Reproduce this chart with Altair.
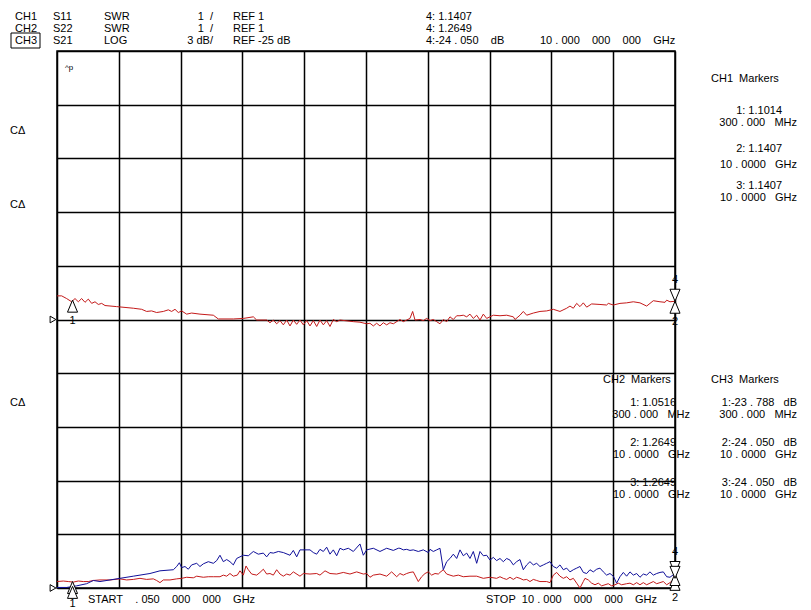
import altair as alt
import pandas as pd

# ---------------- trace data (frequency in GHz, value in screen divisions) ----------------
ch1_f = [0.05, 0.125, 0.205, 0.286, 0.340, 0.393, 0.447, 0.501, 0.554, 0.608,
         0.662, 0.715, 0.769, 0.823, 1.010, 1.279, 1.413, 1.493, 1.574, 1.654,
         1.762, 1.842, 1.896, 1.950, 2.003, 2.057, 2.138, 2.218, 2.352, 2.567,
         2.647, 2.889, 3.050, 3.211, 3.265, 3.426, 3.479, 3.533, 3.587, 3.640,
         3.694, 3.748, 3.801, 3.855, 3.909, 3.962, 4.016, 4.070, 4.123, 4.177,
         4.231, 4.284, 4.338, 4.392, 4.445, 4.499, 4.553, 4.606, 4.821, 4.928,
         5.036, 5.089, 5.143, 5.197, 5.250, 5.304, 5.358, 5.411, 5.465, 5.572,
         5.626, 5.680, 5.733, 5.776, 5.814, 5.894, 5.948, 6.002, 6.055, 6.109,
         6.163, 6.216, 6.270, 6.324, 6.377, 6.431, 6.485, 6.538, 6.592, 6.646,
         6.699, 6.753, 6.807, 6.860, 6.914, 6.968, 7.021, 7.075, 7.182, 7.290,
         7.397, 7.424, 7.504, 7.558, 7.612, 7.719, 7.826, 7.934, 8.041, 8.148,
         8.256, 8.309, 8.363, 8.417, 8.470, 8.524, 8.578, 8.658, 8.792, 8.899,
         8.926, 9.007, 9.114, 9.221, 9.329, 9.436, 9.544, 9.651, 9.758, 9.839,
         9.866, 9.919, 10.0]
ch1_v = [5.44, 5.44, 5.39, 5.33, 5.39, 5.33, 5.39, 5.32, 5.38, 5.30,
         5.33, 5.28, 5.30, 5.26, 5.24, 5.21, 5.19, 5.15, 5.16, 5.13,
         5.15, 5.18, 5.15, 5.19, 5.13, 5.16, 5.10, 5.12, 5.10, 5.08,
         5.01, 5.01, 5.02, 5.05, 4.99, 4.99, 4.94, 4.99, 4.92, 4.98,
         4.90, 4.99, 4.88, 4.99, 4.91, 4.99, 4.90, 4.98, 4.88, 4.98,
         4.87, 4.99, 4.90, 4.98, 4.87, 5.00, 4.96, 4.99, 4.96, 4.95,
         4.92, 4.93, 4.88, 4.93, 4.88, 4.94, 4.90, 4.94, 4.92, 5.00,
         4.96, 4.99, 5.02, 5.15, 4.99, 5.00, 4.98, 5.02, 4.98, 5.00,
         4.96, 4.92, 5.00, 4.96, 5.05, 5.00, 5.07, 5.07, 5.08, 5.05,
         5.10, 5.02, 5.08, 4.99, 5.10, 5.02, 5.05, 5.08, 5.07, 5.08,
         5.05, 5.00, 5.08, 5.15, 5.08, 5.12, 5.15, 5.16, 5.19, 5.15,
         5.21, 5.25, 5.21, 5.30, 5.24, 5.31, 5.23, 5.29, 5.28, 5.27,
         5.30, 5.27, 5.30, 5.31, 5.33, 5.31, 5.25, 5.35, 5.33, 5.32,
         5.36, 5.33, 5.34]

ch3_f = [0.05, 0.205, 0.366, 0.527, 0.635, 0.742, 0.903, 1.064, 1.279, 1.547,
         1.708, 1.923, 1.977, 2.020, 2.057, 2.111, 2.164, 2.218, 2.299, 2.352,
         2.406, 2.486, 2.567, 2.621, 2.674, 2.728, 2.782, 2.835, 2.889, 2.943,
         2.996, 3.050, 3.130, 3.211, 3.291, 3.372, 3.426, 3.479, 3.533, 3.614,
         3.694, 3.801, 3.855, 3.909, 3.962, 4.123, 4.177, 4.231, 4.284, 4.338,
         4.392, 4.445, 4.499, 4.553, 4.606, 4.660, 4.740, 4.821, 4.928, 4.982,
         5.036, 5.143, 5.250, 5.358, 5.465, 5.545,
         5.572, 5.626, 5.680, 5.733, 5.787, 5.867, 5.948, 6.028, 6.055, 6.109,
         6.163, 6.216, 6.270, 6.324, 6.377, 6.431, 6.485, 6.538, 6.592, 6.646,
         6.699, 6.753, 6.807, 6.860, 6.914, 6.968, 7.021, 7.075, 7.128, 7.182,
         7.236, 7.290, 7.343, 7.397, 7.450, 7.504, 7.558, 7.612, 7.665, 7.719,
         7.773, 7.826, 7.880, 7.934, 7.987, 8.041, 8.095, 8.148, 8.202, 8.256,
         8.309, 8.363, 8.417, 8.470, 8.524, 8.578, 8.631, 8.685, 8.739, 8.792,
         8.846, 8.899, 8.953, 9.007, 9.060, 9.114, 9.168, 9.221, 9.275, 9.329,
         9.383, 9.436, 9.490, 9.544, 9.597, 9.651, 9.705, 9.758, 9.812, 9.866,
         9.919, 10.0]
ch3_v = [0.01, 0.01, 0.04, 0.08, 0.14, 0.12, 0.15, 0.18, 0.22, 0.27,
         0.32, 0.34, 0.40, 0.47, 0.38, 0.40, 0.35, 0.43, 0.46, 0.40,
         0.45, 0.49, 0.46, 0.51, 0.61, 0.49, 0.53, 0.49, 0.43, 0.55,
         0.58, 0.61, 0.60, 0.68, 0.63, 0.65, 0.58, 0.66, 0.65, 0.68,
         0.66, 0.61, 0.70, 0.58, 0.71, 0.71, 0.66, 0.63, 0.72, 0.68,
         0.76, 0.63, 0.71, 0.60, 0.74, 0.71, 0.74, 0.68, 0.82, 0.61,
         0.71, 0.74, 0.68, 0.74, 0.70, 0.74,
         0.74, 0.71, 0.72, 0.70, 0.71, 0.68, 0.71, 0.66, 0.72, 0.68,
         0.71, 0.74, 0.34, 0.49, 0.55, 0.63, 0.55, 0.71, 0.60, 0.65,
         0.55, 0.68, 0.46, 0.68, 0.60, 0.61, 0.52, 0.57, 0.51, 0.55,
         0.49, 0.55, 0.52, 0.43, 0.49, 0.53, 0.34, 0.43, 0.49, 0.43,
         0.46, 0.40, 0.43, 0.46, 0.49, 0.40, 0.37, 0.43, 0.34, 0.37,
         0.30, 0.34, 0.37, 0.40, 0.29, 0.27, 0.34, 0.30, 0.35, 0.37,
         0.30, 0.24, 0.27, 0.22, 0.09, 0.21, 0.29, 0.22, 0.30, 0.24,
         0.27, 0.20, 0.26, 0.24, 0.30, 0.24, 0.27, 0.29, 0.30, 0.21,
         0.20, 0.27]

ch2_f = [0.05, 0.152, 0.232, 0.313, 0.393, 0.474, 0.554, 0.635, 0.742, 0.903,
         1.064, 1.172, 1.279, 1.386, 1.493, 1.601, 1.654, 1.708, 1.762, 1.869,
         1.977, 2.057, 2.138, 2.245, 2.299, 2.352, 2.406, 2.486, 2.567, 2.674,
         2.728, 2.782, 2.835, 2.889, 2.953, 2.996, 3.050, 3.093, 3.130, 3.184,
         3.265, 3.318, 3.372, 3.426, 3.479, 3.533, 3.587, 3.640, 3.694, 3.748,
         3.801, 3.855, 3.962, 4.016, 4.123, 4.231, 4.284, 4.365, 4.445, 4.553,
         4.660, 4.767, 4.875, 4.982, 5.036, 5.089, 5.143, 5.250, 5.358, 5.438,
         5.519,
         5.572, 5.626, 5.680, 5.733, 5.787, 5.867, 5.921, 5.975, 6.028, 6.082,
         6.136, 6.189, 6.216, 6.270, 6.324, 6.377, 6.431, 6.511, 6.592, 6.699,
         6.807, 6.914, 7.021, 7.128, 7.182, 7.236, 7.290, 7.343, 7.397, 7.450,
         7.504, 7.558, 7.612, 7.665, 7.719, 7.773, 7.826, 7.934, 7.987, 8.041,
         8.095, 8.148, 8.202, 8.256, 8.309, 8.363, 8.417, 8.470, 8.524, 8.551,
         8.604, 8.658, 8.712, 8.765, 8.819, 8.873, 8.926, 8.980, 9.034, 9.087,
         9.141, 9.221, 9.275, 9.329, 9.383, 9.436, 9.490, 9.544, 9.597, 9.651,
         9.705, 9.758, 9.812, 9.866, 9.919, 10.0]
ch2_v = [0.12, 0.13, 0.12, 0.11, 0.13, 0.12, 0.12, 0.14, 0.15, 0.15,
         0.17, 0.15, 0.16, 0.18, 0.16, 0.17, 0.14, 0.10, 0.15, 0.15,
         0.17, 0.18, 0.20, 0.19, 0.22, 0.21, 0.20, 0.21, 0.21, 0.21,
         0.24, 0.22, 0.27, 0.22, 0.24, 0.32, 0.24, 0.41, 0.34, 0.26,
         0.24, 0.29, 0.35, 0.26, 0.27, 0.24, 0.34, 0.26, 0.22, 0.26,
         0.24, 0.30, 0.22, 0.27, 0.26, 0.27, 0.24, 0.32, 0.27, 0.26,
         0.29, 0.26, 0.30, 0.26, 0.27, 0.20, 0.24, 0.26, 0.22, 0.30,
         0.21,
         0.27, 0.24, 0.27, 0.29, 0.30, 0.12, 0.21, 0.27, 0.30, 0.24,
         0.27, 0.26, 0.29, 0.34, 0.26, 0.24, 0.22, 0.24, 0.21, 0.22,
         0.22, 0.18, 0.20, 0.18, 0.21, 0.18, 0.16, 0.20, 0.16, 0.20,
         0.18, 0.15, 0.16, 0.12, 0.16, 0.14, 0.12, 0.12, 0.10, 0.24,
         0.29, 0.22, 0.18, 0.21, 0.15, 0.18, 0.09, 0.00, 0.12, 0.18,
         0.15, 0.09, 0.06, 0.09, 0.04, 0.06, 0.08, 0.04, 0.06, 0.09,
         0.06, 0.08, 0.09, 0.06, 0.10, 0.06, 0.10, 0.06, 0.09, 0.12,
         0.08, 0.10, 0.12, 0.06, 0.10, 0.18]

series_names = ["CH1 S11", "CH2 S22", "CH3 S21"]
series_colors = ["#c41a1a", "#c41a1a", "#10109a"]

# markers (GHz, divisions)
mk_up_f = [0.3, 0.3, 0.3, 10.0, 10.0, 10.0]
mk_up_v = [5.36, 0.12, 0.03, 5.34, 0.18, 0.27]
mk_dn_f = [10.0, 10.0, 10.0]
mk_dn_v = [5.34, 0.27, 0.18]
mk_lab_t = ["1", "1", "4", "2", "4", "2"]
mk_lab_f = [0.3, 0.3, 10.0, 10.0, 10.0, 10.0]
mk_lab_v = [5.36, 0.03, 5.34, 5.34, 0.27, 0.18]
mk_lab_dy = [21, 18, -21, 21, -22, 20]

ref_v = [5, 0]

grid_f = [0.05, 1.045, 2.04, 3.035, 4.03, 5.025, 6.02, 7.015, 8.01, 9.005, 10.0]
grid_v = [0, 1, 2, 3, 4, 5, 6, 7, 8, 9, 10]

# annotation texts: (text, page_x, page_y)
left_txt = [
    ("CH1", 15, 17), ("S11", 53, 17), ("SWR", 104, 17), ("REF 1", 233, 17),
    ("CH2", 15, 29), ("S22", 53, 29), ("SWR", 104, 29), ("REF 1", 233, 29),
    ("CH3", 15, 41), ("S21", 53, 41), ("LOG", 104, 41), ("REF -25 dB", 233, 41),
    ("4: 1.1407", 426, 17), ("4: 1.2649", 426, 29), ("4:-24 . 050    dB", 426, 41),
    ("10 . 000    000    000    GHz", 540, 41),
    ("CH1  Markers", 711, 79),
    ("CH2  Markers", 603, 380), ("CH3  Markers", 711, 380),
    ("C\u0394", 10, 131), ("C\u0394", 10, 205), ("C\u0394", 10, 403),
    ("START    . 050    000    000    GHz", 88, 600),
    ("STOP  10 . 000    000    000    GHz", 486, 600),
]
right_txt = [
    ("1  /", 213, 17), ("1  /", 213, 29), ("3 dB/", 213, 41),
    ("1: 1.1014", 782, 111), ("300 . 000   MHz", 797, 123),
    ("2: 1.1407", 782, 149), ("10 . 0000   GHz", 797, 165),
    ("3: 1.1407", 782, 186), ("10 . 0000   GHz", 797, 198),
    ("1: 1.0516", 676, 403), ("300 . 000   MHz", 690, 415),
    ("2: 1.2649", 676, 443), ("10 . 0000   GHz", 690, 455),
    ("3: 1.2649", 676, 483), ("10 . 0000   GHz", 690, 495),
    ("1:-23 . 788   dB", 797, 403), ("300 . 000   MHz", 797, 415),
    ("2:-24 . 050   dB", 797, 443), ("10 . 0000   GHz", 797, 455),
    ("3:-24 . 050   dB", 797, 483), ("10 . 0000   GHz", 797, 495),
]

# ---------------- build ----------------
W, H = 618, 537
OX, OY = 57, 51  # page position of plot area
FONT = "Liberation Sans"

traces = pd.concat([
    pd.DataFrame({"f": ch1_f, "v": ch1_v, "trace": series_names[0]}),
    pd.DataFrame({"f": ch2_f, "v": ch2_v, "trace": series_names[1]}),
    pd.DataFrame({"f": ch3_f, "v": ch3_v, "trace": series_names[2]}),
], ignore_index=True)

xs = alt.Scale(domain=[0.05, 10], nice=False, zero=False)
ys = alt.Scale(domain=[0, 10], nice=False, zero=False)
ax_common = dict(grid=True, labels=False, ticks=False, domain=False, title=None,
                 gridColor="black", gridWidth=1.5, gridOpacity=1)

lines = alt.Chart(traces).mark_line(strokeWidth=1, clip=True).encode(
    x=alt.X("f:Q", scale=xs, axis=alt.Axis(values=grid_f, **ax_common)),
    y=alt.Y("v:Q", scale=ys, axis=alt.Axis(values=grid_v, **ax_common)),
    color=alt.Color("trace:N", scale=alt.Scale(domain=series_names, range=series_colors), legend=None),
    order=alt.Order("f:Q"),
)

up_shape = "M0,0L0.42,1L-0.42,1Z"
dn_shape = "M0,0L0.42,-1L-0.42,-1Z"

up = alt.Chart(pd.DataFrame({"f": mk_up_f, "v": mk_up_v})).mark_point(
    shape=up_shape, size=576, filled=True, fill="white", stroke="black", strokeWidth=1, opacity=1
).encode(x=alt.X("f:Q", scale=xs), y=alt.Y("v:Q", scale=ys))

dn = alt.Chart(pd.DataFrame({"f": mk_dn_f, "v": mk_dn_v})).mark_point(
    shape=dn_shape, size=576, filled=True, fill="white", stroke="black", strokeWidth=1, opacity=1
).encode(x=alt.X("f:Q", scale=xs), y=alt.Y("v:Q", scale=ys))

mk_layers = []
for t, f, v, dy in zip(mk_lab_t, mk_lab_f, mk_lab_v, mk_lab_dy):
    mk_layers.append(
        alt.Chart(pd.DataFrame({"f": [f], "v": [v], "t": [t]})).mark_text(
            font=FONT, fontSize=11, color="black", dy=dy, baseline="middle", align="center"
        ).encode(x=alt.X("f:Q", scale=xs), y=alt.Y("v:Q", scale=ys), text="t:N")
    )

refs = alt.Chart(pd.DataFrame({"v": ref_v})).mark_point(
    shape="triangle-right", size=45, filled=True, fill="white", stroke="black", strokeWidth=1, opacity=1
).encode(x=alt.value(-4), y=alt.Y("v:Q", scale=ys))

NBSP = "\u00a0"

def text_layer(items, align):
    df = pd.DataFrame({"t": [a.replace(" ", NBSP) for a, _, _ in items],
                       "px": [b - OX for _, b, _ in items],
                       "py": [c - OY for _, _, c in items]})
    return alt.Chart(df).mark_text(
        font=FONT, fontSize=11, color="black", align=align, baseline="middle"
    ).encode(x=alt.X("px:Q", scale=None), y=alt.Y("py:Q", scale=None), text="t:N")

tl = text_layer(left_txt, "left")
tr = text_layer(right_txt, "right")

small = alt.Chart(pd.DataFrame({"t": ["^p"]})).mark_text(
    font=FONT, fontSize=8, color="black", align="left", baseline="middle"
).encode(x=alt.value(65 - OX), y=alt.value(68 - OY), text="t:N")

box = alt.Chart(pd.DataFrame({"a": [0]})).mark_rect(
    filled=False, stroke="black", strokeWidth=1
).encode(x=alt.value(11 - OX), x2=alt.value(40 - OX), y=alt.value(33 - OY), y2=alt.value(48 - OY))

chart = alt.layer(lines, refs, up, dn, *mk_layers, tl, tr, small, box).properties(
    width=W, height=H,
    autosize=alt.AutoSizeParams(type="none"),
    padding={"left": OX - 8, "top": OY - 8, "right": 795 - (OX - 8) - W, "bottom": 22},
    background="white",
).configure_view(stroke="black", strokeWidth=1.5)

chart.save("out.html", embed_options={"renderer": "svg", "actions": False})
